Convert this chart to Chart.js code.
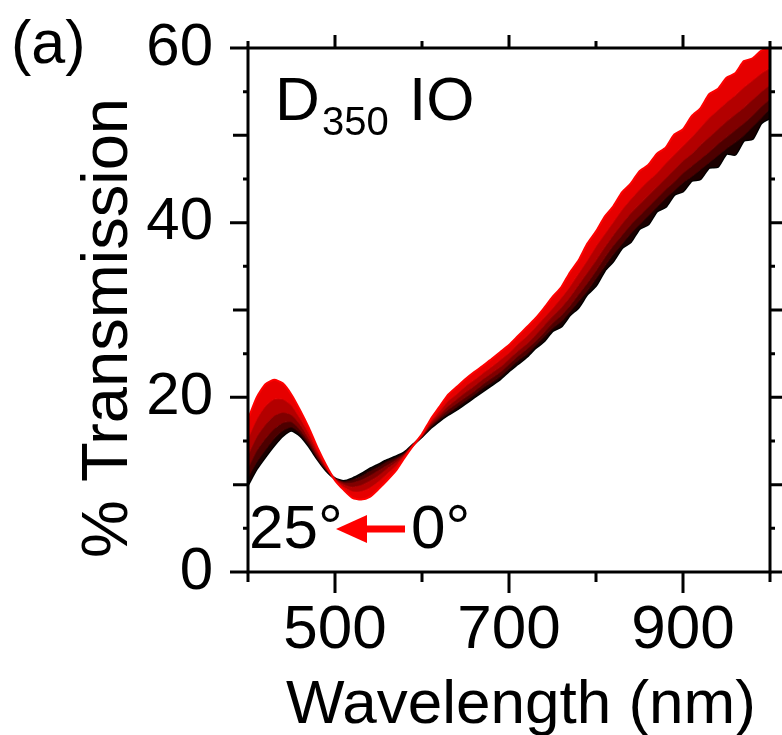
<!DOCTYPE html>
<html>
<head>
<meta charset="utf-8">
<script src="https://cdn.jsdelivr.net/npm/chart.js@4.4.1/dist/chart.umd.min.js"></script>
<style>
  html, body { margin: 0; padding: 0; background: #fff; }
  canvas { display: block; }
</style>
</head>
<body>
<canvas id="chart" width="782" height="735"></canvas>
<script>
// Transmission spectra of the D350 IO sample, 0 deg (black) to 25 deg (red)
const wavelengths = [400, 410, 420, 430, 440, 450, 460, 470, 480, 490,
  500, 510, 520, 530, 540, 550, 560, 570, 580, 590,
  600, 610, 620, 630, 640, 650, 660, 670, 680, 690,
  700, 710, 720, 730, 740, 750, 760, 770, 780, 790,
  800, 810, 820, 830, 840, 850, 860, 870, 880, 890,
  900, 910, 920, 930, 940, 950, 960, 970, 980, 990, 1000];

const angles = ['25°', '20°', '15°', '10°', '5°', '0°'];

const t25 = [17.5, 20.0, 21.5, 22.0, 21.6, 20.3, 18.5, 16.5, 14.2, 12.2,
  10.5, 9.4, 8.5, 8.3, 8.6, 9.5, 10.5, 11.6, 13.1, 14.5,
  15.8, 17.5, 18.9, 20.3, 21.2, 22.1, 22.9, 23.6, 24.4, 25.2,
  26.0, 27.0, 28.0, 29.0, 30.2, 31.5, 32.6, 34.3, 35.7, 37.6,
  39.0, 40.7, 41.9, 43.5, 44.5, 45.9, 46.6, 47.9, 48.6, 50.1,
  50.7, 52.2, 53.1, 54.7, 55.3, 56.6, 57.1, 58.5, 58.8, 59.7, 60.0];
const t20 = [15.3, 17.5, 19.0, 19.8, 19.8, 19.1, 17.6, 15.9, 13.8, 12.0,
  10.6, 9.7, 9.2, 9.2, 9.6, 10.3, 11.2, 12.1, 13.3, 14.5,
  15.7, 17.2, 18.4, 19.6, 20.4, 21.3, 22.0, 22.8, 23.5, 24.3,
  25.1, 26.1, 27.0, 28.0, 29.1, 30.2, 31.4, 32.7, 34.2, 35.7,
  37.3, 38.7, 40.1, 41.5, 42.7, 43.8, 44.8, 45.7, 46.8, 47.8,
  48.8, 49.8, 50.9, 52.0, 52.9, 53.8, 54.6, 55.5, 56.3, 57.1, 57.7];
const t15 = [13.4, 15.5, 16.9, 17.9, 18.3, 18.0, 16.9, 15.3, 13.5, 11.9,
  10.6, 10.0, 9.7, 9.9, 10.4, 11.0, 11.8, 12.5, 13.4, 14.5,
  15.6, 17.0, 18.0, 19.0, 19.8, 20.6, 21.3, 22.1, 22.8, 23.5,
  24.4, 25.3, 26.1, 27.1, 28.2, 29.3, 30.3, 31.5, 32.9, 34.3,
  35.7, 37.2, 38.6, 39.9, 41.1, 42.1, 43.1, 44.1, 45.1, 46.1,
  47.1, 47.9, 48.9, 49.8, 50.7, 51.6, 52.4, 53.2, 54.1, 55.0, 55.8];
const t10 = [11.9, 13.9, 15.3, 16.4, 17.1, 17.2, 16.3, 14.9, 13.2, 11.8,
  10.7, 10.2, 10.2, 10.5, 11.0, 11.6, 12.2, 12.8, 13.5, 14.6,
  15.6, 16.8, 17.7, 18.6, 19.3, 20.0, 20.7, 21.5, 22.2, 22.9,
  23.8, 24.7, 25.5, 26.4, 27.4, 28.5, 29.4, 30.5, 31.8, 33.1,
  34.5, 36.0, 37.4, 38.6, 39.8, 40.8, 41.8, 42.8, 43.8, 44.7,
  45.7, 46.5, 47.3, 48.1, 49.0, 49.8, 50.6, 51.4, 52.3, 53.3, 54.2];
const t5 = [10.8, 12.6, 14.0, 15.3, 16.2, 16.6, 15.9, 14.6, 13.0, 11.7,
  10.7, 10.3, 10.5, 10.9, 11.5, 12.0, 12.6, 13.0, 13.6, 14.6,
  15.5, 16.6, 17.5, 18.2, 18.9, 19.6, 20.3, 21.1, 21.7, 22.4,
  23.3, 24.2, 24.9, 25.9, 26.9, 27.9, 28.7, 29.8, 31.0, 32.2,
  33.6, 35.0, 36.4, 37.6, 38.8, 39.8, 40.8, 41.8, 42.8, 43.7,
  44.6, 45.3, 46.1, 46.9, 47.7, 48.5, 49.2, 50.0, 51.0, 52.0, 53.1];
const t0 = [10.0, 11.8, 13.2, 14.5, 15.6, 16.2, 15.6, 14.4, 12.9, 11.6,
  10.7, 10.4, 10.7, 11.2, 11.8, 12.3, 12.8, 13.2, 13.7, 14.6,
  15.5, 16.5, 17.3, 18.0, 18.6, 19.3, 20.0, 20.7, 21.4, 22.1,
  23.0, 23.8, 24.6, 25.6, 26.4, 27.6, 28.1, 29.4, 30.3, 31.8,
  32.8, 34.5, 35.6, 37.1, 37.8, 39.3, 39.8, 41.3, 41.8, 43.2,
  43.6, 44.8, 45.0, 46.3, 46.4, 47.9, 47.8, 49.4, 49.6, 51.4, 52.0];

const series = [t25, t20, t15, t10, t5, t0];
const lineColors = ['#ff0000', '#cc0000', '#990000', '#660000', '#330000', '#000000'];
const bandColors = ['#e60000', '#b30000', '#800000', '#4d0000', '#1a0000', '#000000'];
const lineWidths = [2, 1.5, 1.5, 1.5, 1.5, 2.5];

const xTickLabels = [500, 700, 900];
const xTickMarks = [400, 500, 600, 700, 800, 900, 1000];
const yTickLabels = [0, 20, 40, 60];
const yTickMarks = [0, 10, 20, 30, 40, 50, 60];
const ySmallMarks = [5, 15, 25, 35, 45, 55];

const FONT = "'Liberation Sans', Arial, sans-serif";

// frame, tick marks and the text labels
const framePlugin = {
  id: 'frame',
  afterDraw(chart) {
    const ctx = chart.ctx;
    const a = chart.chartArea;
    const xs = chart.scales.x;
    const ys = chart.scales.y;
    ctx.save();
    ctx.strokeStyle = '#000';
    ctx.lineWidth = 3;
    ctx.lineCap = 'butt';
    ctx.strokeRect(a.left, a.top, a.right - a.left, a.bottom - a.top);

    ctx.beginPath();
    xTickMarks.forEach(v => {
      const px = xs.getPixelForValue(v);
      const major = xTickLabels.includes(v);
      ctx.moveTo(px, a.bottom);
      ctx.lineTo(px, a.bottom + (major ? 21 : 10));
      ctx.moveTo(px, a.top);
      ctx.lineTo(px, a.top - (major ? 13 : 7));
    });
    yTickMarks.forEach(v => {
      const py = ys.getPixelForValue(v);
      const major = yTickLabels.includes(v);
      ctx.moveTo(a.left, py);
      ctx.lineTo(a.left - (major ? 18 : 15), py);
      ctx.moveTo(a.right, py);
      ctx.lineTo(a.right + 14, py);
    });
    ySmallMarks.forEach(v => {
      const py = ys.getPixelForValue(v);
      ctx.moveTo(a.left, py);
      ctx.lineTo(a.left - 5, py);
      ctx.moveTo(a.right, py);
      ctx.lineTo(a.right + 5, py);
    });
    ctx.stroke();

    ctx.fillStyle = '#000';
    ctx.textBaseline = 'alphabetic';
    ctx.textAlign = 'left';
    ctx.font = '61px ' + FONT;
    ctx.fillText('(a)', 11, 63);

    ctx.font = '62px ' + FONT;
    ctx.fillText('D', 275, 120);
    ctx.fillText('IO', 409, 120);
    ctx.font = '40px ' + FONT;
    ctx.fillText('350', 322, 135);

    ctx.font = '62px ' + FONT;
    ctx.fillText('25°', 249, 548);
    ctx.fillText('0°', 411, 548);

    // red arrow pointing from 0 deg to 25 deg
    ctx.fillStyle = '#ff0000';
    ctx.fillRect(364, 525.5, 41, 7);
    ctx.beginPath();
    ctx.moveTo(336, 529);
    ctx.lineTo(367, 515);
    ctx.lineTo(367, 543);
    ctx.closePath();
    ctx.fill();

    ctx.fillStyle = '#000';
    ctx.textAlign = 'center';
    ctx.font = '62px ' + FONT;
    ctx.fillText('Wavelength (nm)', 521, 723);

    ctx.translate(127, 328);
    ctx.rotate(-Math.PI / 2);
    ctx.font = '65px ' + FONT;
    ctx.fillText('% Transmission', 0, 0);
    ctx.restore();
  }
};

const datasets = series.map((vals, i) => ({
  label: angles[i],
  data: wavelengths.map((w, j) => ({ x: w, y: vals[j] })),
  borderColor: lineColors[i],
  backgroundColor: bandColors[i],
  borderWidth: lineWidths[i],
  pointRadius: 0,
  tension: 0.2,
  fill: i < series.length - 1 ? '+1' : false
}));

new Chart(document.getElementById('chart'), {
  type: 'line',
  data: { datasets },
  options: {
    responsive: false,
    animation: false,
    layout: { padding: { top: 48, right: 12, left: 0, bottom: 0 } },
    plugins: {
      legend: { display: false },
      tooltip: { enabled: false }
    },
    scales: {
      x: {
        type: 'linear',
        position: 'bottom',
        min: 400,
        max: 1000,
        grid: { display: false, drawTicks: false },
        border: { display: false },
        afterBuildTicks: scale => { scale.ticks = xTickLabels.map(v => ({ value: v })); },
        afterFit: scale => {
          scale.height = 163;
          scale.paddingLeft = 0;
          scale.paddingRight = 0;
        },
        ticks: {
          color: '#000',
          padding: 22,
          maxRotation: 0,
          autoSkip: false,
          font: { family: FONT, size: 62 }
        }
      },
      y: {
        type: 'linear',
        position: 'left',
        min: 0,
        max: 60,
        grid: { display: false, drawTicks: false },
        border: { display: false },
        afterBuildTicks: scale => { scale.ticks = yTickLabels.map(v => ({ value: v })); },
        afterFit: scale => {
          scale.width = 248;
          scale.paddingTop = 0;
          scale.paddingBottom = 0;
        },
        ticks: {
          color: '#000',
          padding: 35,
          font: { family: FONT, size: 60 }
        }
      }
    }
  },
  plugins: [framePlugin]
});
</script>
</body>
</html>
